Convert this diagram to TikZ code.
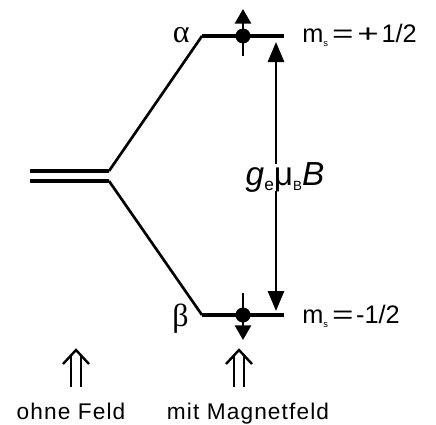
\documentclass[tikz,border=0pt]{standalone}
\usepackage{fontspec}
\setmainfont{Liberation Sans}
\newfontfamily\greekfont{Liberation Serif}
\usetikzlibrary{arrows.meta}
\newcommand{\lowsub}[2][7]{\raisebox{-0.3ex}{\fontsize{#1}{#1}\selectfont #2}}
\newcommand{\wide}[1]{\scalebox{1.45}[1]{#1}}
\tikzset{
  level/.style={line width=3.4pt},
  branch/.style={line width=2pt},
  spinarrow/.style={line width=2.2pt, -{Triangle[length=11pt,width=12pt]}},
  gaparrow/.style={line width=2.2pt, -{Triangle[length=15pt,width=12pt]}},
  fieldarrow/.style={line width=1.8pt},
  statelabel/.style={anchor=base west, font=\fontsize{19}{19}\selectfont, inner sep=0pt},
  greeklabel/.style={anchor=base east, font=\greekfont\fontsize{24}{24}\selectfont, inner sep=0pt},
  caption/.style={anchor=base, font=\fontsize{17}{17}\selectfont\addfontfeature{LetterSpace=5}, inner sep=0pt}
}
\begin{document}
\begin{tikzpicture}[x=0.75pt, y=-0.75pt]
\useasboundingbox (0,0) rectangle (436,425);

% Zero-field level (doubly degenerate)
\coordinate (zeroA) at (30,171);
\coordinate (splitA) at (109,171);
\coordinate (zeroB) at (30,181);
\coordinate (splitB) at (109,181);
\draw[level] (zeroA) -- (splitA);
\draw[level] (zeroB) -- (splitB);

% Split levels in the field
\coordinate (alphaL) at (202,36);
\coordinate (alphaR) at (284,36);
\coordinate (betaL) at (202,315);
\coordinate (betaR) at (284,315);
\draw[branch] (splitA) -- (alphaL);
\draw[branch] (splitB) -- (betaL);
\draw[level] (alphaL) -- (alphaR);
\draw[level] (betaL) -- (betaR);

% Electrons with spin
\coordinate (eUp) at (243,36);
\coordinate (eDown) at (243,315);
\coordinate (upTail) at (243,56);
\coordinate (upTip) at (243,9);
\coordinate (downTail) at (243,293);
\coordinate (downTip) at (243,340);
\fill (eUp) circle (7.5);
\fill (eDown) circle (7.5);
\draw[spinarrow] (upTail) -- (upTip);
\draw[spinarrow] (downTail) -- (downTip);

% Energy gap
\coordinate (gapTop) at (276,42);
\coordinate (gapBot) at (276,311);
\node[font=\fontsize{25}{25}\selectfont, inner xsep=0pt, inner ysep=2pt, anchor=base] (gap) at (285,185)
  {\textit{g}\lowsub[13]{e}μ\lowsub[10]{B}\textit{B}};
\draw[gaparrow] (gap.north -| gapTop) ++(0,5) -- (gapTop);
\draw[gaparrow] (gap.south -| gapBot) ++(0,-4) -- (gapBot);

% Level labels
\node[greeklabel] (alpha) at (190,42) {α};
\node[greeklabel] (beta) at (189,326) {β};
\node[statelabel] (msUp) at (302,42)
  {m\lowsub{s}\hspace{3pt}\wide{=}\hspace{3pt}\wide{+}\hspace{2pt}1/2};
\node[statelabel] (msDown) at (302,323)
  {m\lowsub{s}\hspace{3pt}\wide{=}\hspace{2pt}-1/2};

% Field indicators
\foreach \xc/\name in {76/noField, 239/withField}{
  \coordinate (\name) at (\xc,350);
  \draw[fieldarrow] (\xc-5,387) -- (\xc-5,356);
  \draw[fieldarrow] (\xc+5,387) -- (\xc+5,356);
  \draw[fieldarrow] (\xc-13,364) -- (\name) -- (\xc+13,364);
}
\node[caption] (ohne) at (71,419) {ohne Feld};
\node[caption] (mit) at (248,419) {mit Magnetfeld};
\end{tikzpicture}
\end{document}
